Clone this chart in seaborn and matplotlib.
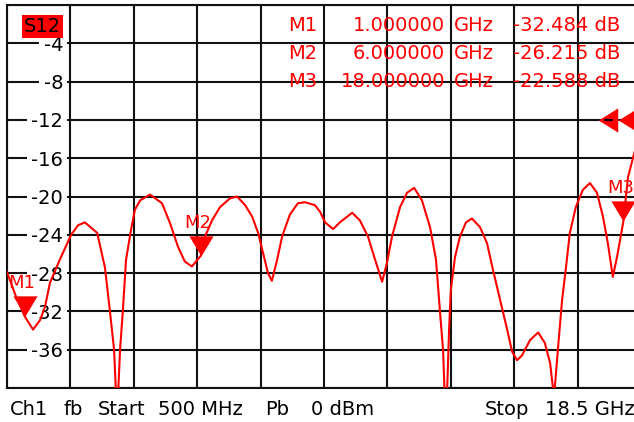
import numpy as np
import matplotlib
matplotlib.use('Agg')
import matplotlib.pyplot as plt
import matplotlib.transforms as mtransforms
import seaborn as sns

# S12 trace
freq_ghz = [0.50, 0.75, 1.00, 1.24, 1.44, 1.58, 1.72, 2.00, 2.32, 2.52, 2.71, 3.06,
            3.28, 3.42, 3.54, 3.60, 3.65, 3.71, 3.79, 3.88, 4.02, 4.13, 4.28, 4.56,
            4.90, 5.13, 5.36, 5.55, 5.75, 6.00, 6.12, 6.32, 6.55, 6.83, 7.03, 7.26,
            7.46, 7.63, 7.77, 7.91, 8.02, 8.17, 8.31, 8.53, 8.76, 8.96, 9.24, 9.39,
            9.53, 9.76, 9.95, 10.30, 10.52, 10.75, 10.95, 11.15, 11.29, 11.43, 11.66,
            11.86, 12.06, 12.28, 12.51, 12.68, 12.79, 12.88, 12.93, 12.99, 13.05,
            13.10, 13.22, 13.36, 13.53, 13.70, 13.93, 14.13, 14.30, 14.50, 14.70,
            14.84, 14.98, 15.12, 15.35, 15.58, 15.77, 15.92, 16.03, 16.14, 16.26,
            16.37, 16.48, 16.65, 16.85, 17.05, 17.25, 17.42, 17.56, 17.70, 17.82,
            18.00, 18.13, 18.27, 18.50]
s12_db = [-27.9, -30.4, -32.5, -33.9, -32.9, -31.5, -29.0, -26.6, -24.0, -23.0, -22.7, -23.8,
          -27.4, -31.9, -36.0, -41.0, -41.0, -36.0, -31.9, -26.6, -23.5, -21.4, -20.4, -19.8,
          -20.7, -22.8, -25.3, -26.8, -27.3, -26.2, -24.2, -22.5, -21.1, -20.2, -20.0, -20.9,
          -22.1, -23.8, -25.9, -28.0, -28.8, -26.6, -24.2, -21.9, -20.7, -20.6, -20.9, -21.6,
          -22.7, -23.4, -22.7, -21.7, -22.5, -24.2, -26.6, -28.9, -26.9, -24.2, -21.1,
          -19.6, -19.1, -20.4, -23.2, -26.6, -31.9, -36.0, -41.0, -41.0, -34.0,
          -29.8, -26.3, -24.2, -22.7, -22.3, -23.2, -24.9, -27.7, -30.8, -33.9,
          -36.2, -37.1, -36.6, -35.0, -34.2, -35.3, -37.4, -41.0, -36.0, -30.8,
          -27.4, -23.8, -21.1, -19.3, -18.6, -19.6, -22.1, -24.9, -28.4, -26.3,
          -22.6, -18.0, -16.0, -13.0]

marker_names = ['M1', 'M2', 'M3']
marker_freq = [1.0, 6.0, 18.0]
marker_db = [-32.484, -26.215, -22.588]
marker_freq_text = ['1.000000', '6.000000', '18.000000']
marker_db_text = ['-32.484 dB', '-26.215 dB', '-22.588 dB']

y_labels = [-4, -8, -12, -16, -20, -24, -28, -32, -36]
start_ghz, stop_ghz = 0.5, 18.5
ref_level = -12

footer_words = ['Ch1', 'fb', 'Start', '500 MHz', 'Pb', '0 dBm', 'Stop', '18.5 GHz']

# ---- layout (pixels of the 634x422 screenshot) ----
W, H = 634, 422
fig = plt.figure(figsize=(W / 100, H / 100), dpi=100)
sns.set_style('white')
plt.rcParams['font.family'] = ['DejaVu Sans']


def fx(px):
    return px / W


def fy(py):
    return 1 - py / H


FS = 14
ax = fig.add_axes([fx(7), fy(388), 634 / W, 383 / H])
ax.set_xlim(start_ghz, stop_ghz)
ax.set_ylim(-40, 0)
ax.set_xticks(np.linspace(start_ghz, stop_ghz, 11))
ax.set_yticks(np.arange(-40, 1, 4))
ax.set_axisbelow(True)
ax.grid(True, color='#111111', lw=1.5)
ax.tick_params(length=0, labelleft=False, labelbottom=False)
for s in ax.spines.values():
    s.set_color('#111111')
    s.set_linewidth(1.5)
ax.set_xlabel('')
ax.set_ylabel('')

sns.lineplot(x=freq_ghz, y=s12_db, ax=ax, color='red', lw=1.5,
             estimator=None, sort=False, zorder=3)

# y labels sit inside the first column, on white
trans = mtransforms.blended_transform_factory(ax.transAxes, ax.transData)
for v in y_labels:
    ax.text((63 - 7) / 634, v, str(v), transform=trans, ha='right',
            va='center_baseline', fontsize=FS, color='black', zorder=1.5,
            bbox=dict(fc='white', ec='none', pad=3))

# markers: triangles with the tip on the trace
tri = [(-0.6, 1.0), (0.6, 1.0), (0.0, 0.0)]
ax.plot(marker_freq, marker_db, ls='none', marker=tri, ms=29, color='red',
        mew=0, zorder=4, clip_on=False)
for name, f, d in zip(marker_names, marker_freq, marker_db):
    ax.annotate(name, (f, d), xytext=(-2, 24), textcoords='offset points',
                ha='center', va='center', color='red', fontsize=13, zorder=4,
                annotation_clip=False)

# reference level arrows at the right edge
arrow = [(-0.8, 0.0), (0.8, 1.0), (0.8, -1.0)]
ax.plot([(607.5 - 7) / 634, (628 - 7) / 634], [ref_level, ref_level],
        transform=trans, ls='none', marker=arrow, ms=17.5, color='red',
        mew=0, zorder=5, clip_on=False)
ax.plot([(605 - 7) / 634, (612 - 7) / 634], [ref_level, ref_level],
        transform=trans, color='black', lw=1.5, zorder=6, clip_on=False)

# trace title box
fig.text(fx(42.5), fy(26.5), 'S12', ha='center', va='center', fontsize=FS,
         color='black', bbox=dict(boxstyle='square,pad=0.1', fc='red', ec='none'))

# marker readout table
for i, (name, ft, dt) in enumerate(zip(marker_names, marker_freq_text, marker_db_text)):
    base = fy(31 + 28 * i)
    fig.text(fx(288), base, name, ha='left', va='baseline', fontsize=FS, color='red')
    fig.text(fx(445), base, ft, ha='right', va='baseline', fontsize=FS, color='red')
    fig.text(fx(454), base, 'GHz', ha='left', va='baseline', fontsize=FS, color='red')
    fig.text(fx(513), base, dt, ha='left', va='baseline', fontsize=FS, color='red')

# footer status line
footer_x = [10, 63, 98, 158, 265, 311, 485, 545]
for word, x in zip(footer_words, footer_x):
    fig.text(fx(x), fy(415), word, ha='left', va='baseline', fontsize=FS, color='black')

fig.savefig('out.png', dpi=100)
